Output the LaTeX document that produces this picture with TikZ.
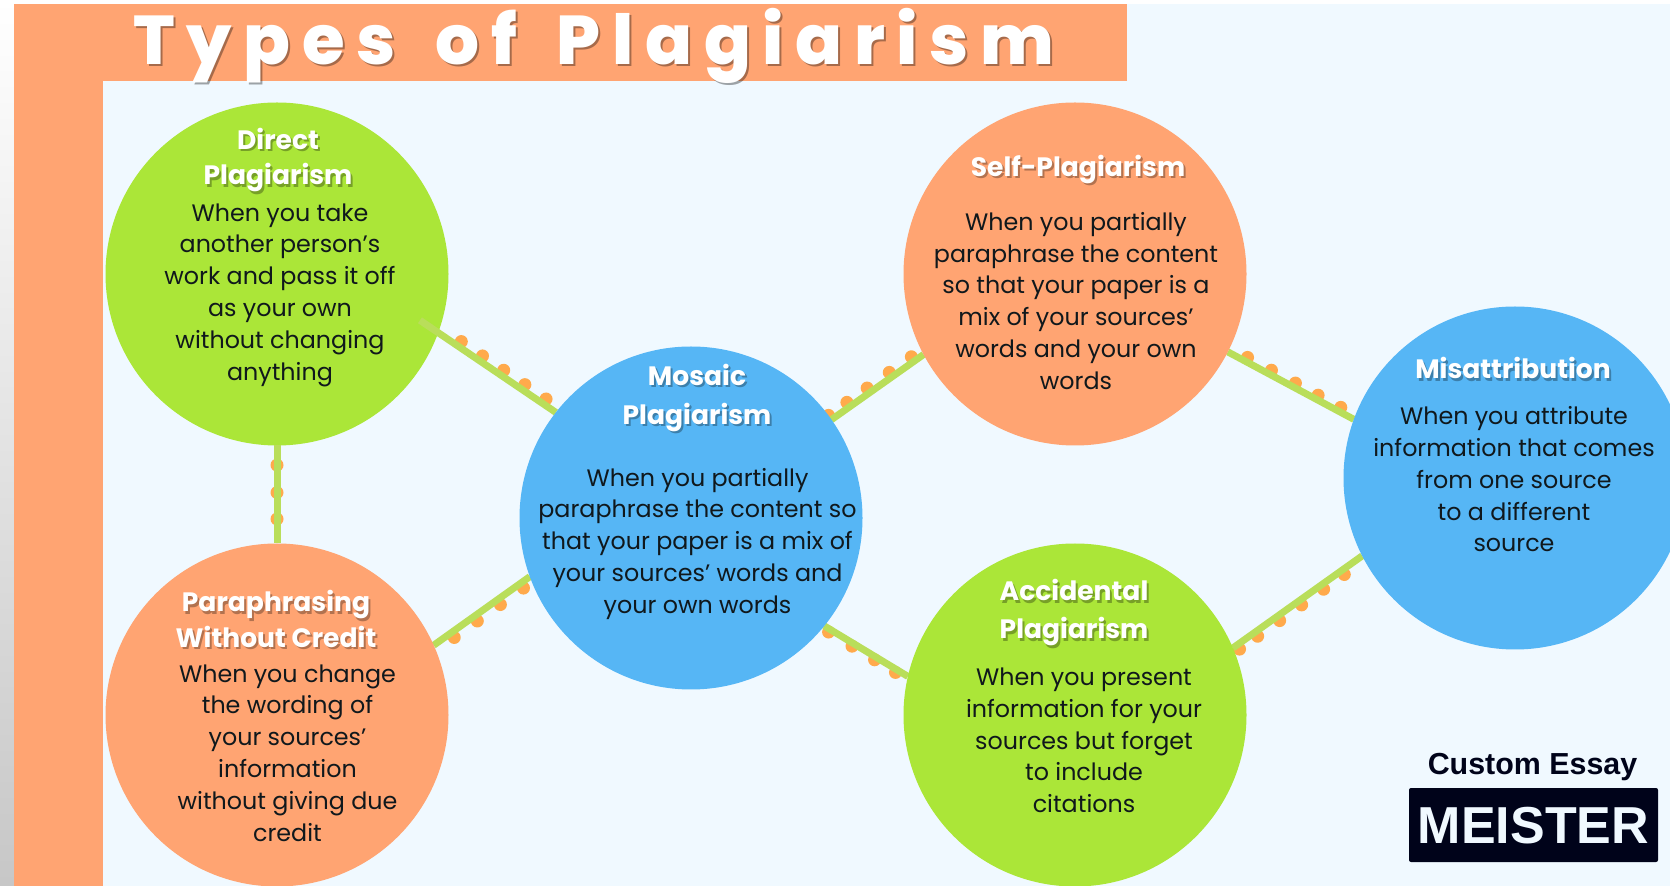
\documentclass[tikz,border=0pt]{standalone}
\usepackage{fontspec}
\usetikzlibrary{calc}
\setmainfont{Poppins}
\newfontfamily\bodyfont{Poppins}
\newfontfamily\headfont{Poppins}[UprightFont=* Bold]
\newfontfamily\titlefont{Poppins}[UprightFont=* ExtraBold,LetterSpace=17,WordSpace=1.6]
\newfontfamily\logofont{Liberation Sans}[UprightFont=* Bold]
\definecolor{orng}{HTML}{FFA472}
\definecolor{grn}{HTML}{ABE638}
\definecolor{blu}{HTML}{56B6F5}
\definecolor{paper}{HTML}{F0F9FF}
\definecolor{linec}{HTML}{B9DE5A}
\definecolor{dotc}{HTML}{FFAA4C}
\definecolor{ink}{HTML}{10181C}
\definecolor{logobg}{HTML}{00031A}
\pgfdeclarelayer{page}
\pgfdeclarelayer{under}
\pgfdeclarelayer{mid}
\pgfsetlayers{page,under,mid,main}
\tikzset{
  blob/.style={circle,minimum size=171.5pt,inner sep=0pt,outer sep=0pt,fill=#1},
  linkline/.style={draw=linec,line width=3.5pt},
  bodytext/.style={align=center,text=ink,inner sep=0pt,font=\bodyfont\fontsize{11.9}{15.9}\selectfont,
    execute at begin node=\strut,execute at end node=\strut},
  headtext/.style={align=center,inner sep=0pt,font=\headfont\fontsize{13.3}{#1}\selectfont,
    execute at begin node=\strut,execute at end node=\strut},
}
\newcommand\headnode[5]{%
  \node[headtext=#5,text=black,opacity=.3] (#1s) at ($(#2,#3)+(2,2.5)$) {#4};
  \node[headtext=#5,text=white] (#1) at (#2,#3) {#4};}
\newcommand\linkdots[4]{%
  \foreach \t in {#3}{\fill[dotc] ($(#1)!\t!(#2)!#4!90:(#2)$) circle[radius=6.5];}}
\begin{document}
\begin{tikzpicture}[x=0.5pt,y=-0.5pt]
\useasboundingbox (0,0) rectangle (1670,886);
% page
\begin{pgfonlayer}{page}
\fill[white] (0,0) rectangle (1670,886);
\shade[top color=white,bottom color=black!22] (0,0) rectangle (14,886);
\fill[paper] (14,4) rectangle (1670,886);
\fill[orng] (14,4) rectangle (1127,81);
\fill[orng] (14,4) rectangle (103,886);
\end{pgfonlayer}
% title
\node[anchor=base west,inner sep=0pt,text=black,opacity=.35,font=\titlefont\fontsize{34.5}{40}\selectfont] (titleshadow) at (135,67) {Types of Plagiarism};
\node[anchor=base west,inner sep=0pt,text=white,font=\titlefont\fontsize{34.5}{40}\selectfont] (title) at (133,65) {Types of Plagiarism};
% circles
\begin{pgfonlayer}{under}
\node[blob=grn] (direct) at (277,274) {};
\end{pgfonlayer}
\node[blob=orng] (para) at (277,715) {};
\node[blob=blu] (mosaic) at (691,518) {};
\node[blob=orng] (self) at (1075,274) {};
\node[blob=grn] (accid) at (1075,715) {};
\node[blob=blu] (misat) at (1515,478) {};
% connectors
\begin{pgfonlayer}{mid}
\coordinate (a1) at (direct.-20.6); \coordinate (b1) at (mosaic.142);
\linkdots{a1}{b1}{0.17,0.35,0.53,0.71,0.89}{2.8pt}
\draw[linkline,shorten <=-11pt] (direct.-20.6) -- (mosaic.142);
\coordinate (a2) at (para.24.8); \coordinate (b2) at (mosaic.200.3);
\linkdots{a2}{b2}{0.18,0.42,0.66,0.90}{-2.8pt}
\draw[linkline] (para.24.8) -- (mosaic.200.3);
\coordinate (a3) at (mosaic.35.2); \coordinate (b3) at (self.208.6);
\linkdots{a3}{b3}{0,0.2,0.42,0.66,0.9}{2.6pt}
\draw[linkline] (mosaic.35.2) -- (self.208.6);
\coordinate (a4) at (mosaic.-39.6); \coordinate (b4) at (accid.167.3);
\linkdots{a4}{b4}{0.07,0.35,0.62,0.87}{-1.5pt}
\draw[linkline] (mosaic.-39.6) -- (accid.167.3);
\coordinate (a5) at (self.-27.5); \coordinate (b5) at (misat.160.1);
\linkdots{a5}{b5}{0.14,0.33,0.52,0.70,0.88}{2.2pt}
\draw[linkline] (self.-27.5) -- (misat.160.1);
\coordinate (a6) at (accid.23.9); \coordinate (b6) at (misat.207.5);
\linkdots{a6}{b6}{0.03,0.17,0.34,0.51,0.68,0.84}{-2.4pt}
\draw[linkline] (accid.23.9) -- (misat.207.5);
\fill[dotc] ($(direct.south)!0.2!(para.north)$) circle[radius=6.5];
\fill[dotc] ($(direct.south)!0.48!(para.north)$) circle[radius=6.5];
\fill[dotc] ($(direct.south)!0.75!(para.north)$) circle[radius=6.5];
\draw[linkline] (direct.south) -- (para.north);
\end{pgfonlayer}
% headings
\headnode{directh}{278}{161.5}{Direct\\Plagiarism}{17.7}
\headnode{parah}{276}{624}{Paraphrasing\\Without Credit}{17.7}
\headnode{mosaich}{697}{400}{Mosaic\\Plagiarism}{19.5}
\headnode{selfh}{1078}{169}{Self-Plagiarism}{17.7}
\headnode{accidh}{1074}{615}{Accidental\\Plagiarism}{19}
\headnode{misath}{1513}{371.5}{Misattribution}{17.7}
% bodies
\node[bodytext] (directb) at (280,296.5) {When you take\\another person’s\\work and pass it off\\as your own\\without changing\\anything};
\node[bodytext] (parab) at (287.5,757.5) {When you change\\the wording of\\your sources’\\information\\without giving due\\credit};
\node[bodytext] (mosaicb) at (697.5,545.5) {When you partially\\paraphrase the content so\\that your paper is a mix of\\your sources’ words and\\your own words};
\node[bodytext] (selfb) at (1076,305.5) {When you partially\\paraphrase the content\\so that your paper is a\\mix of your sources’\\words and your own\\words};
\node[bodytext] (accidb) at (1084,745) {When you present\\information for your\\sources but forget\\to include\\citations};
\node[bodytext] (misatb) at (1514,484) {When you attribute\\information that comes\\from one source\\to a different\\source};
% logo
\node[anchor=base,inner sep=0pt,text=logobg,font=\logofont\fontsize{15.2}{18}\selectfont] (logotop) at (1532.5,775) {Custom Essay};
\node[fill=logobg,rounded corners=1pt,minimum width=124.5pt,minimum height=37pt,inner sep=0pt,outer sep=0pt] (logobox) at (1533.5,825) {};
\node[anchor=base,inner sep=0pt,text=paper,font=\logofont\fontsize{26}{30}\selectfont] (logotext) at (logobox.center |- 0,843.5) {MEISTER};
\end{tikzpicture}
\end{document}
